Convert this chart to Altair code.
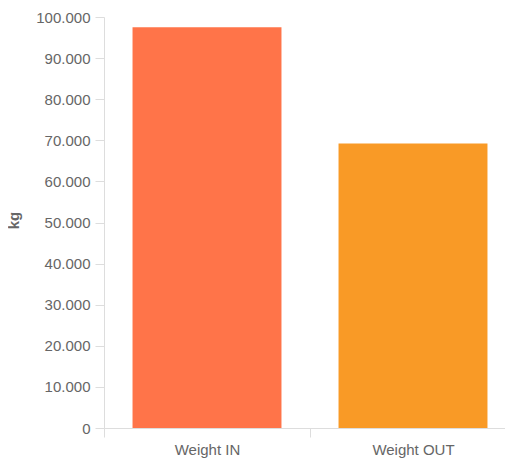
import altair as alt
import pandas as pd

categories = ["Weight IN", "Weight OUT"]
values = [97500, 69200]
colors = ["#FF7449", "#F99A26"]

df = pd.DataFrame({"category": categories, "kg": values})

chart = alt.Chart(df).mark_bar(width=alt.RelativeBandSize(0.723)).encode(
    x=alt.X("category:N", title=None, sort=categories,
            scale=alt.Scale(paddingInner=0, paddingOuter=0, range=[0, 412]),
            axis=alt.Axis(labelAngle=0, tickBand="extent", grid=False,
                          domainColor="#dddddd", tickColor="#dddddd",
                          tickSize=9, labelPadding=5,
                          labelFont="Liberation Sans", labelFontSize=15,
                          labelColor="#666666")),
    y=alt.Y("kg:Q", title="kg",
            scale=alt.Scale(domain=[0, 100000]),
            axis=alt.Axis(values=[0, 10000, 20000, 30000, 40000, 50000, 60000, 70000, 80000, 90000, 100000],
                          labelExpr="replace(format(datum.value, ','), ',', '.')",
                          grid=False, domainColor="#dddddd", tickColor="#dddddd",
                          tickSize=9, labelPadding=5,
                          labelFont="Liberation Sans", labelFontSize=15,
                          labelColor="#666666",
                          titleFont="Liberation Sans", titleFontSize=15,
                          titleColor="#666666", titleFontWeight="bold",
                          titleX=-83, titleY=203)),
    color=alt.Color("category:N", scale=alt.Scale(domain=categories, range=colors), legend=None),
).properties(
    width=401, height=411,
    autosize=alt.AutoSizeParams(type="none"),
    padding={"left": 96, "top": 9, "right": 0, "bottom": 30},
).configure_view(stroke=None)

chart.save("out.html", embed_options={"renderer": "svg", "actions": False})
